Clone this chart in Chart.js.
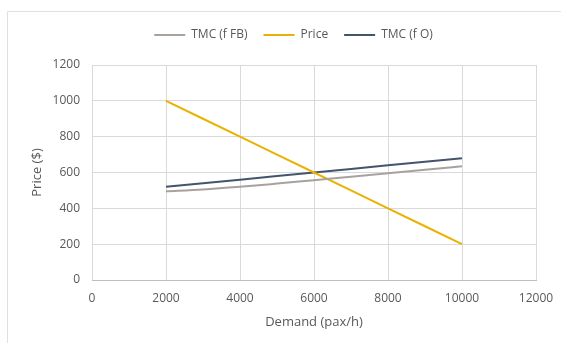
<!DOCTYPE html>
<html>
<head>
<meta charset="utf-8">
<script src="https://cdn.jsdelivr.net/npm/chart.js@4/dist/chart.umd.min.js"></script>
<style>
html,body{margin:0;padding:0;background:#fff;}
#wrap{width:561px;height:343px;position:relative;}
</style>
</head>
<body>
<div id="wrap"><canvas id="c" width="561" height="343"></canvas></div>
<script>
const demand = [2000, 3000, 4000, 5000, 6000, 7000, 8000, 9000, 10000];
const tmcFB = [495, 505, 520, 538, 557, 576, 596, 615, 635];
const price = [1000, 900, 800, 700, 600, 500, 400, 300, 200];
const tmcO = [520, 540, 560, 580, 600, 620, 640, 660, 680];
const xTicks = [0, 2000, 4000, 6000, 8000, 10000, 12000];
const yTicks = [0, 200, 400, 600, 800, 1000, 1200];

const toPts = arr => demand.map((d, i) => ({x: d, y: arr[i]}));
const FONT = "'Open Sans', 'Liberation Sans', sans-serif";
const TXT = '#595959';

const frame = {
  id: 'frame',
  beforeLayout(chart) {
    const lg = chart.legend;
    if (lg && !lg._patched) {
      const orig = lg.fit;
      lg.fit = function () { orig.call(this); this.height += 14; };
      lg._patched = true;
    }
  },
  afterLayout(chart) {
    const lg = chart.legend;
    if (lg) { lg.left += 13; lg.right += 13; }
  },
  beforeDraw(chart) {
    const ctx = chart.ctx;
    ctx.save();
    ctx.strokeStyle = '#e3e0db';
    ctx.lineWidth = 1;
    ctx.beginPath();
    ctx.moveTo(7.5, 343);
    ctx.lineTo(7.5, 11.5);
    ctx.lineTo(561, 11.5);
    ctx.stroke();
    ctx.restore();
  }
};

new Chart(document.getElementById('c'), {
  type: 'scatter',
  data: {
    datasets: [
      {label: 'TMC (f FB)', data: toPts(tmcFB), borderColor: '#a8a29e', backgroundColor: '#a8a29e', showLine: true, pointRadius: 0, borderWidth: 2, cubicInterpolationMode: 'monotone'},
      {label: 'Price', data: toPts(price), borderColor: '#eab200', backgroundColor: '#eab200', showLine: true, pointRadius: 0, borderWidth: 2},
      {label: 'TMC (f O)', data: toPts(tmcO), borderColor: '#44546a', backgroundColor: '#44546a', showLine: true, pointRadius: 0, borderWidth: 2}
    ]
  },
  options: {
    responsive: false,
    animation: false,
    devicePixelRatio: 1,
    layout: {padding: {left: 25, right: 25, top: 13, bottom: 9}},
    plugins: {
      legend: {
        position: 'top',
        labels: {
          font: {family: FONT, size: 12},
          color: TXT,
          boxWidth: 31,
          boxHeight: 0,
          padding: 16,
          generateLabels(chart) {
            return chart.data.datasets.map((ds, i) => ({
              text: ds.label, strokeStyle: ds.borderColor, fillStyle: ds.borderColor,
              lineWidth: 2, datasetIndex: i, fontColor: TXT
            }));
          }
        }
      },
      tooltip: {enabled: false}
    },
    scales: {
      x: {
        type: 'linear', min: 0, max: 12000,
        afterBuildTicks(s) { s.ticks = xTicks.map(v => ({value: v})); },
        afterFit(s) { s.height = 54; s.paddingRight = 0; s.paddingLeft = 0; },
        grid: {color: '#d9d9d9', drawTicks: false},
        border: {color: '#bfbfbf'},
        ticks: {font: {family: FONT, size: 12}, color: TXT, padding: 11, maxRotation: 0, callback: v => String(v)},
        title: {display: true, text: 'Demand (pax/h)', font: {family: FONT, size: 13}, color: TXT, padding: {top: 6}}
      },
      y: {
        type: 'linear', min: 0, max: 1200,
        afterBuildTicks(s) { s.ticks = yTicks.map(v => ({value: v})); },
        afterFit(s) { s.width = 67; },
        grid: {color: '#d9d9d9', drawTicks: false},
        border: {display: false},
        ticks: {font: {family: FONT, size: 12}, color: TXT, padding: 12, callback: v => String(v)},
        title: {display: true, text: 'Price ($)', font: {family: FONT, size: 13}, color: TXT, padding: {bottom: 4}}
      }
    }
  },
  plugins: [frame]
});
</script>
</body>
</html>
